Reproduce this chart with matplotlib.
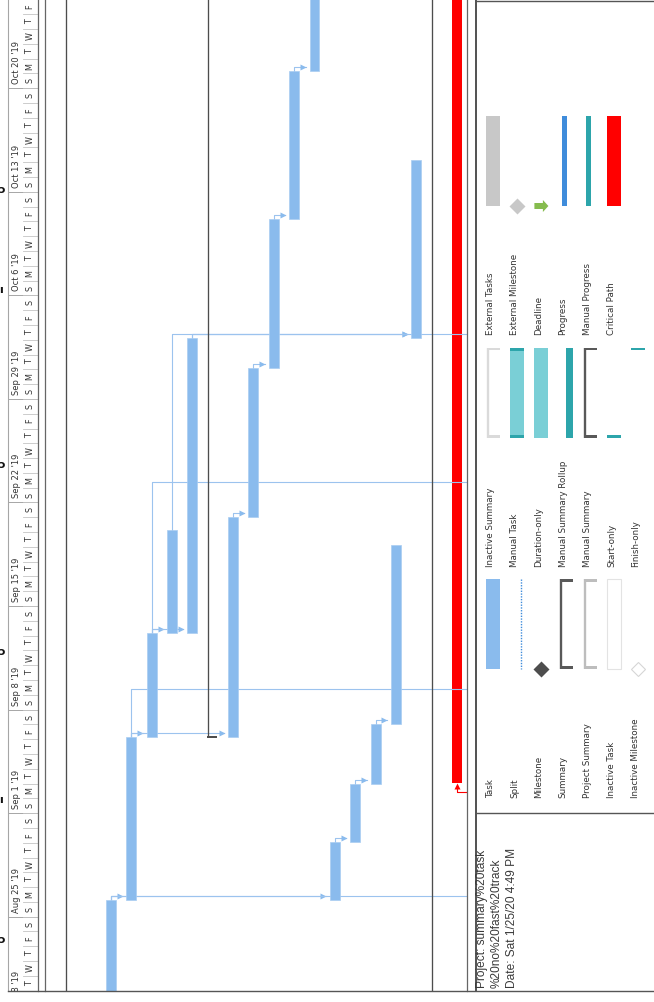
import datetime as dt
import matplotlib
matplotlib.use("Agg")
import matplotlib.pyplot as plt
from matplotlib.patches import Rectangle, Polygon

W, H = 654, 1002
PX_PER_DAY = 14.793
Y_START = 990.66          # pixel row of Tue Aug 20 2019, 00:00
BASE = dt.date(2019, 8, 20)

BAR_BLUE = "#8ABBED"
LINK_BLUE = "#9CC3EE"
DARK = "#595959"
TEAL = "#2DA5AB"
TEAL_LIGHT = "#7ACFD6"
RED = "#FF0000"

# ---- gantt data (days since Aug 20 2019) ----
TASK_ROWS = [2, 3, 4, 5, 6, 8, 9, 10, 11, 12, 13, 14, 15, 16, 17]
TASK_START = [-3.0, 6.1, 17.15, 24.2, 24.2, 17.15, 32.05, 42.1, 52.15, 62.15, 6.1, 10.05, 14.0, 18.05, 44.15]
TASK_FINISH = [6.1, 17.15, 24.2, 31.15, 44.15, 32.05, 42.1, 52.15, 62.15, 72.0, 10.05, 14.0, 18.05, 30.15, 56.15]

SUMMARY_ROWS = [0, 7, 18]
SUMMARY_START = [-10.0, 17.15, -10.0]
SUMMARY_FINISH = [80.0, 80.0, 80.0]

CRIT_ROW = 19
CRIT_START = 14.02
CRIT_FINISH = 80.0

LINKS = [(2, 3), (2, 13), (3, 4), (3, 8), (4, 5), (4, 6), (5, 17), (6, 17),
         (8, 9), (9, 10), (10, 11), (11, 12), (13, 14), (14, 15), (15, 16)]
# links to successors printed on a later page: (predecessor row, successor start)
OFFPAGE_LINKS = [(2, 6.1), (3, 20.1), (4, 34.1), (6, 44.15)]
CRIT_LINK_FROM = 13.45

WEEK_STARTS = [-2, 5, 12, 19, 26, 33, 40, 47, 54, 61]
WEEK_LABELS = ["Aug 18 '19", "Aug 25 '19", "Sep 1 '19", "Sep 8 '19", "Sep 15 '19",
               "Sep 22 '19", "Sep 29 '19", "Oct 6 '19", "Oct 13 '19", "Oct 20 '19"]
DAY_LETTERS = ["M", "T", "W", "T", "F", "S", "S"]

LEGEND_COLS = [
    ["Task", "Split", "Milestone", "Summary", "Project Summary", "Inactive Task", "Inactive Milestone"],
    ["Inactive Summary", "Manual Task", "Duration-only", "Manual Summary Rollup", "Manual Summary",
     "Start-only", "Finish-only"],
    ["External Tasks", "External Milestone", "Deadline", "Progress", "Manual Progress", "Critical Path"],
]
FOOTER = ["Project: summary%20task", "%20no%20fast%20track", "Date: Sat 1/25/20 4:49 PM"]


def row_of(px):
    return (px - 70.3) / 20.35


def frac_box(x0, y0, x1, y1):
    return [x0 / W, 1 - y1 / H, (x1 - x0) / W, (y1 - y0) / H]


fig = plt.figure(figsize=(W / 100, H / 100), dpi=100)
fig.patch.set_facecolor("white")
y_top_days = Y_START / PX_PER_DAY

# ---- gantt area ----
ax = fig.add_axes(frac_box(45, 0, 467.3, Y_START))
ax.set_xlim(row_of(45), row_of(467.3))
ax.set_ylim(0, y_top_days)
ax.axis("off")

heights = [f - s for s, f in zip(TASK_START, TASK_FINISH)]
ax.bar(TASK_ROWS, heights, bottom=TASK_START, width=0.49, color=BAR_BLUE,
       edgecolor="#A9CDF2", linewidth=0.5, zorder=4)
ax.bar(CRIT_ROW, CRIT_FINISH - CRIT_START, bottom=CRIT_START, width=0.52, color=RED, zorder=2)

for r, s, f in zip(SUMMARY_ROWS, SUMMARY_START, SUMMARY_FINISH):
    ax.plot([r - 0.22, r - 0.22], [s, f], color="#4D4D4D", lw=0.95, solid_capstyle="butt", zorder=3.5)
    ax.bar(r - 0.30, 0.18, bottom=s - 0.1, width=0.52, align="edge", color="#4D4D4D", zorder=3.5)

start_of = dict(zip(TASK_ROWS, TASK_START))
finish_of = dict(zip(TASK_ROWS, TASK_FINISH))
delta = 0.27
gap = 4 / 20.35
for p, s in LINKS:
    f, t = finish_of[p], start_of[s]
    y = max(f, t) + delta
    xs = s - 0.245 - gap
    ax.plot([p, p, xs], [f, y, y], color=LINK_BLUE, lw=0.8, zorder=3)
    ax.plot(xs - 0.12, y, marker=">", ms=4.6, color=BAR_BLUE, mec="none", zorder=3)
for p, t in OFFPAGE_LINKS:
    f = finish_of[p]
    ax.plot([p, p, 22], [f, t + delta, t + delta], color=LINK_BLUE, lw=0.8, zorder=3)

ax.plot([22, CRIT_ROW, CRIT_ROW], [CRIT_LINK_FROM, CRIT_LINK_FROM, CRIT_START - 0.25],
        color=RED, lw=0.8, zorder=3)
ax.plot(CRIT_ROW, CRIT_START - 0.2, marker="^", ms=4.6, color=RED, mec="none", zorder=3)

# ---- timescale header ----
axh = fig.add_axes(frac_box(0, 0, 45, Y_START))
axh.set_xlim(0, 45)
axh.set_ylim(0, y_top_days)
axh.axis("off")
for ws, lab in zip(WEEK_STARTS, WEEK_LABELS):
    axh.plot([7.5, 38.3], [ws, ws], color="#A6A6A6", lw=0.7)
    axh.text(16.5, ws + 0.27, lab, rotation=90, rotation_mode="anchor", ha="left", va="center",
             fontsize=6, color="#333333", clip_on=True)
for i in range(0, 67):
    axh.plot([23, 38.3], [i, i], color="#C4C4C4", lw=0.6)
    axh.text(30, i + 0.5, DAY_LETTERS[(BASE + dt.timedelta(days=i)).weekday()], rotation=90,
             ha="center", va="center", fontsize=5.8, color="#333333", clip_on=True)

# ---- frame, legend, footer (pixel space) ----
axo = fig.add_axes([0, 0, 1, 1])
axo.set_xlim(0, W)
axo.set_ylim(H, 0)
axo.axis("off")
axo.patch.set_alpha(0)

axo.plot([7.5, 7.5], [0, Y_START], color="#A6A6A6", lw=0.8)
for xv in (38.3, 45.0, 467.3):
    axo.plot([xv, xv], [0, Y_START], color="#666666", lw=0.9)
axo.plot([475.7, 475.7], [0, Y_START], color="#222222", lw=1.1)
axo.plot([7.5, W], [Y_START, Y_START], color="#555555", lw=1.0)
axo.plot([475.7, W], [0.6, 0.6], color="#555555", lw=1.0)
axo.plot([475.7, W], [813, 813], color="#555555", lw=1.0)

for yv, g in [(940, "\u0254"), (800, "\u0131"), (652, "\u0254"), (465, "\u0254"), (290, "\u0131"), (190, "\u0254")]:
    axo.text(1.5, yv, g, ha="center", va="center", fontsize=8, fontweight="bold", color="#111111")


def bracket(x0, top, bot, color):
    axo.plot([x0 + 2.2, x0 + 2.2], [top, bot], color=color, lw=1.7, solid_capstyle="butt")
    axo.add_patch(Rectangle((x0 + 1, top), 13, 2.6, color=color, lw=0))
    axo.add_patch(Rectangle((x0 + 1, bot - 2.6), 13, 2.6, color=color, lw=0))


label_y = [798, 566.7, 335]
for c, labels in enumerate(LEGEND_COLS):
    ly = label_y[c]
    bot, top = ly - 129, ly - 219
    for i, lab in enumerate(labels):
        rx = 490.5 + 24.2 * i
        axo.text(rx, ly, lab, rotation=90, rotation_mode="anchor", ha="left", va="center",
                 fontsize=6.3, color="#333333")
        x0 = rx - 4.5
        cx = x0 + 7
        if lab == "Task":
            axo.add_patch(Rectangle((x0, top), 14, bot - top, color=BAR_BLUE, lw=0))
        elif lab == "Split":
            axo.plot([x0 + 11, x0 + 11], [top, bot], color="#3F8CDB", lw=1.0, ls=(0, (1, 1)))
        elif lab == "Milestone":
            axo.plot(cx, bot, marker="D", ms=7.8, color="#4D4D4D", mec="none")
        elif lab == "Summary":
            bracket(x0, top, bot, DARK)
        elif lab == "Project Summary":
            bracket(x0, top, bot, "#BDBDBD")
        elif lab == "Inactive Task":
            axo.add_patch(Rectangle((x0, top), 14, bot - top, fc="white", ec="#E3E3E3", lw=0.8))
        elif lab == "Inactive Milestone":
            axo.plot(cx, bot, marker="D", ms=7.4, mfc="white", mec="#D6D6D6", mew=0.8)
        elif lab == "Inactive Summary":
            bracket(x0, top, bot, "#DADADA")
        elif lab == "Manual Task":
            axo.add_patch(Rectangle((x0, top), 14, bot - top, color=TEAL_LIGHT, lw=0))
            axo.add_patch(Rectangle((x0, top), 14, 3, color=TEAL, lw=0))
            axo.add_patch(Rectangle((x0, bot - 3), 14, 3, color=TEAL, lw=0))
        elif lab == "Duration-only":
            axo.add_patch(Rectangle((x0, top), 14, bot - top, color=TEAL_LIGHT, lw=0))
        elif lab == "Manual Summary Rollup":
            axo.add_patch(Rectangle((x0 + 7.4, top), 6.6, bot - top, color=TEAL, lw=0))
        elif lab == "Manual Summary":
            bracket(x0, top, bot, DARK)
        elif lab == "Start-only":
            axo.add_patch(Rectangle((x0, bot - 2.6), 14, 2.6, color=TEAL, lw=0))
        elif lab == "Finish-only":
            axo.add_patch(Rectangle((x0, top), 14, 2.6, color=TEAL, lw=0))
        elif lab == "External Tasks":
            axo.add_patch(Rectangle((x0, top), 14, bot - top, color="#C8C8C8", lw=0))
        elif lab == "External Milestone":
            axo.plot(cx, bot, marker="D", ms=7.8, color="#C8C8C8", mec="none")
        elif lab == "Deadline":
            axo.add_patch(Polygon([(x0, bot - 3), (x0 + 8.5, bot - 3), (x0 + 8.5, bot - 6),
                                   (x0 + 14, bot), (x0 + 8.5, bot + 6), (x0 + 8.5, bot + 3),
                                   (x0, bot + 3)], closed=True, color="#86BC4E", lw=0))
        elif lab == "Progress":
            axo.add_patch(Rectangle((x0 + 3.4, top), 4.7, bot - top, color="#3F8CDB", lw=0))
        elif lab == "Manual Progress":
            axo.add_patch(Rectangle((x0 + 3.4, top), 4.7, bot - top, color=TEAL, lw=0))
        elif lab == "Critical Path":
            axo.add_patch(Rectangle((x0, top), 14, bot - top, color=RED, lw=0))

for i, line in enumerate(FOOTER):
    axo.text(482 + 15 * i, 988, line, rotation=90, rotation_mode="anchor", ha="left", va="center",
             fontsize=8.6, family="Liberation Sans", color="#3A3A3A")

fig.savefig("out.png", dpi=100, facecolor="white")
